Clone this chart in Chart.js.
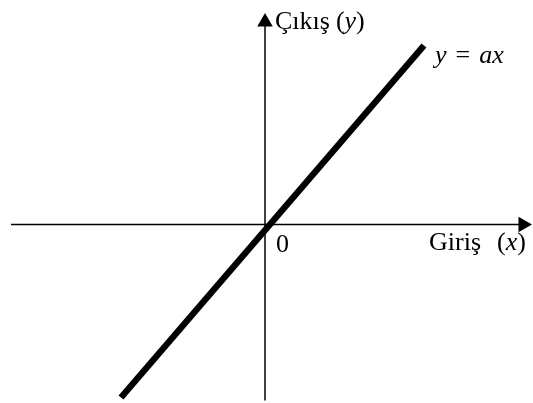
<!DOCTYPE html>
<html>
<head>
<meta charset="utf-8">
<script src="https://cdn.jsdelivr.net/npm/chart.js@4/dist/chart.umd.min.js"></script>
<style>
html,body{margin:0;padding:0;background:#fff;}
#wrap{width:533px;height:403px;position:relative;}
</style>
</head>
<body>
<div id="wrap"><canvas id="c"></canvas></div>
<script>
// Data (abstract units, origin at axes intersection)
const lineX = [-1.44, 1.59];
const lineY = [-1.73, 1.79];
const xAxisX = [-2.54, 2.58];
const yAxisY = [-1.76, 2.025];
// Text labels: segments [text, italic]; " " marks an equation-style gap
const labelYAxis = [["Çıkış", false], [" ", false], ["(", false], ["y", true], [")", false]];
const labelLine = [["y", true], [" ", false], ["=", false], [" ", false], ["ax", true]];
const labelOrigin = [["0", false]];
const labelXAxis = [["Giriş", false], [" ", false], ["(", false], ["x", true], [")", false]];
// Label anchors (data units)
const anchorsX = [0.10, 1.70, 0.11, 1.64];
const anchorsY = [1.955, 1.615, -0.275, -0.255];

const labels = [labelYAxis, labelLine, labelOrigin, labelXAxis];

const textPlugin = {
  id: 'texts',
  afterDatasetsDraw(chart) {
    const ctx = chart.ctx;
    const xs = chart.scales.x, ys = chart.scales.y;
    const gapPx = [6, 9, 0, 16];
    ctx.save();
    ctx.fillStyle = '#000';
    ctx.textBaseline = 'alphabetic';
    ctx.textAlign = 'left';
    labels.forEach((segs, i) => {
      let px = xs.getPixelForValue(anchorsX[i]);
      const py = ys.getPixelForValue(anchorsY[i]);
      segs.forEach(([t, it]) => {
        if (t === ' ') { px += gapPx[i]; return; }
        ctx.font = (it ? 'italic ' : '') + '26px "Liberation Serif", "Times New Roman", serif';
        ctx.fillText(t, px, py);
        px += ctx.measureText(t).width;
      });
    });
    ctx.restore();
  }
};

new Chart(document.getElementById('c'), {
  type: 'scatter',
  data: {
    datasets: [
      {
        data: xAxisX.map(v => ({x: v, y: 0})),
        showLine: true, borderColor: '#000', backgroundColor: '#000',
        borderWidth: 1.5, pointRadius: [0, 9], pointStyle: 'triangle',
        pointRotation: 90, pointBorderWidth: 0, clip: false
      },
      {
        data: yAxisY.map(v => ({x: 0, y: v})),
        showLine: true, borderColor: '#000', backgroundColor: '#000',
        borderWidth: 1.5, pointRadius: [0, 9], pointStyle: 'triangle',
        pointRotation: 0, pointBorderWidth: 0, clip: false
      },
      {
        data: lineX.map((v, i) => ({x: v, y: lineY[i]})),
        showLine: true, borderColor: '#000', borderWidth: 6.5,
        pointRadius: 0, borderCapStyle: 'butt', clip: false
      }
    ]
  },
  options: {
    responsive: true,
    maintainAspectRatio: false,
    animation: false,
    layout: { padding: 0, autoPadding: false },
    plugins: { legend: { display: false }, tooltip: { enabled: false } },
    scales: {
      x: { type: 'linear', min: -2.65, max: 2.68, display: false },
      y: { type: 'linear', min: -1.785, max: 2.245, display: false }
    }
  },
  plugins: [textPlugin]
});
</script>
</body>
</html>
